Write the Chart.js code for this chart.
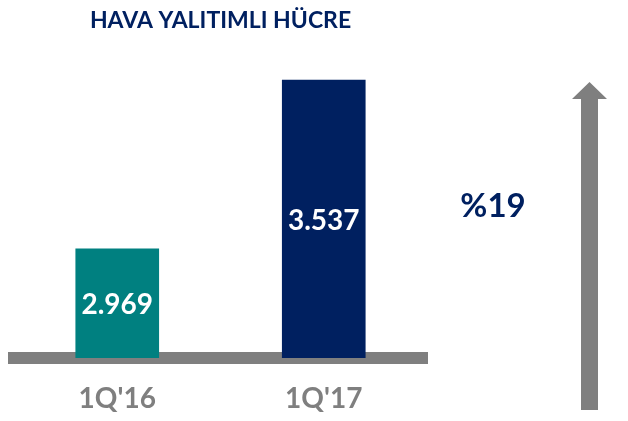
<!DOCTYPE html>
<html>
<head>
<meta charset="utf-8">
<script src="https://cdn.jsdelivr.net/npm/chart.js@4"></script>
<style>
  html, body { margin: 0; padding: 0; background: #fff; }
  #wrap { width: 628px; height: 421px; }
</style>
</head>
<body>
<div id="wrap"><canvas id="chart" width="628" height="421"></canvas></div>
<script>
// ---- data ----
const titleText = 'HAVA YALITIMLI HÜCRE';
const quarters  = ["1Q'16", "1Q'17"];
const cells     = [2969, 3537];
const barColors = ['#008080', '#002060'];
const growthLabel = '%19';

// Turkish style thousands separator
function fmt(v) {
  return v.toLocaleString('tr-TR');
}

const FONT = 'Lato, "Open Sans", sans-serif';

// values written in white in the middle of each bar
const barValues = {
  id: 'barValues',
  afterDatasetsDraw(chart) {
    const ctx = chart.ctx;
    const meta = chart.getDatasetMeta(0);
    ctx.save();
    ctx.fillStyle = '#ffffff';
    ctx.font = 'bold 28px ' + FONT;
    ctx.textAlign = 'center';
    ctx.textBaseline = 'middle';
    meta.data.forEach((bar, i) => {
      const mid = (bar.y + chart.chartArea.bottom - 6) / 2;
      ctx.fillText(fmt(cells[i]), bar.x, mid + 5);
    });
    ctx.restore();
  }
};

// growth text + gray arrow on the right
const growthArrow = {
  id: 'growthArrow',
  afterDraw(chart) {
    const ctx = chart.ctx;
    ctx.save();
    ctx.fillStyle = '#002060';
    ctx.font = 'bold 33px ' + FONT;
    ctx.textAlign = 'center';
    ctx.textBaseline = 'alphabetic';
    ctx.fillText(growthLabel, 493, 217);

    ctx.fillStyle = '#7f7f7f';
    ctx.beginPath();
    ctx.moveTo(589.5, 82);
    ctx.lineTo(607, 99);
    ctx.lineTo(598, 99);
    ctx.lineTo(598, 410);
    ctx.lineTo(581, 410);
    ctx.lineTo(581, 99);
    ctx.lineTo(572, 99);
    ctx.closePath();
    ctx.fill();
    ctx.restore();
  }
};

new Chart(document.getElementById('chart').getContext('2d'), {
  type: 'bar',
  data: {
    labels: quarters,
    datasets: [{
      data: cells,
      backgroundColor: barColors,
      barThickness: 83,
      borderWidth: 0
    }]
  },
  options: {
    responsive: false,
    animation: false,
    layout: { padding: { left: 14, right: 201, top: 0, bottom: 0 } },
    plugins: {
      legend: { display: false },
      tooltip: { enabled: false },
      title: {
        display: true,
        text: titleText,
        color: '#002060',
        font: { family: FONT, size: 23, weight: 'bold' },
        padding: { top: 7, bottom: 20 }
      }
    },
    scales: {
      x: {
        z: 1,
        grid: { display: false, drawTicks: false },
        border: { display: true, color: '#7f7f7f', width: 12 },
        ticks: {
          color: '#7f7f7f',
          font: { family: FONT, size: 28, weight: 'bold' },
          padding: 24
        },
        afterFit(scale) { scale.height = 63; }
      },
      y: {
        display: false,
        min: 2601,
        max: 3623
      }
    }
  },
  plugins: [barValues, growthArrow]
});
</script>
</body>
</html>
